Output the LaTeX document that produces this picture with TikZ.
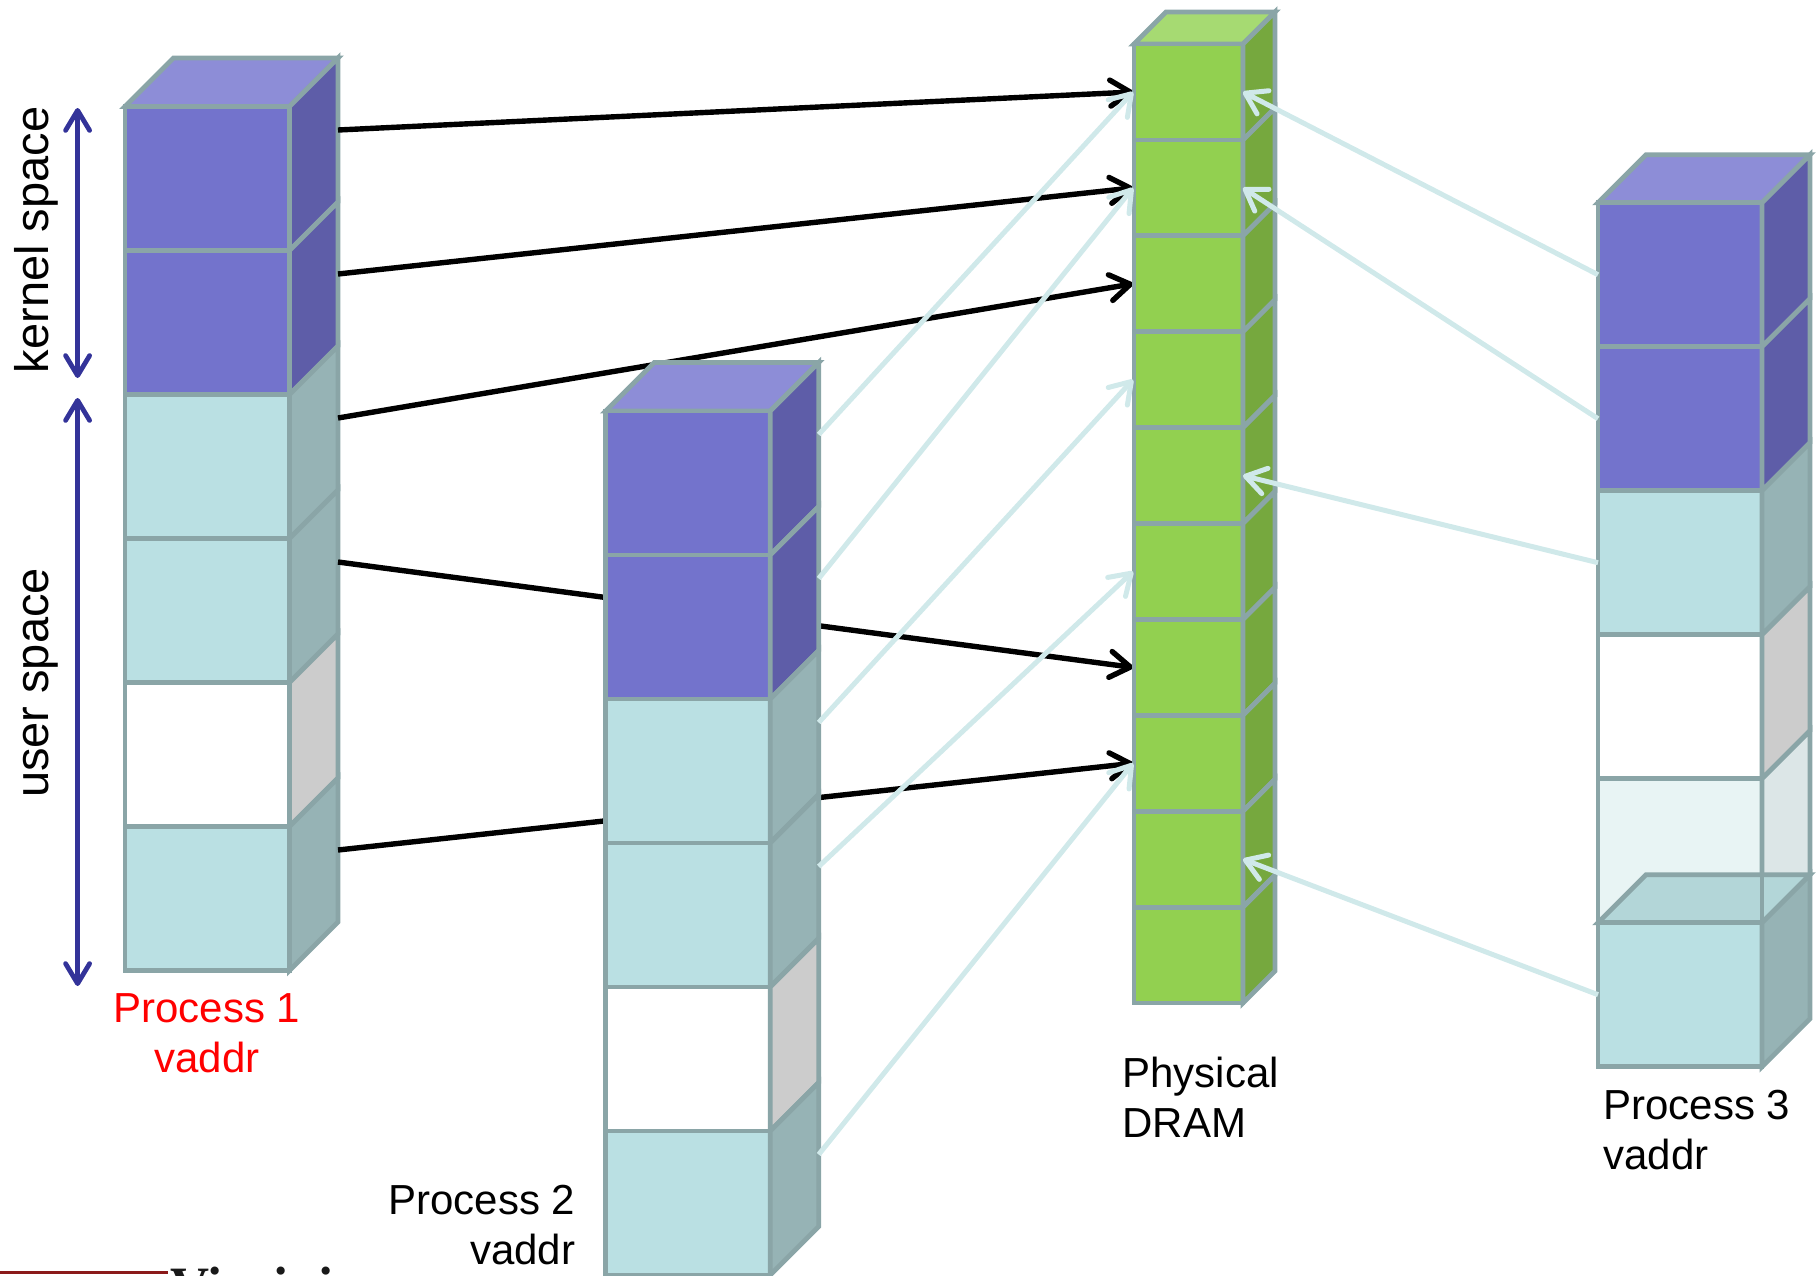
\documentclass[tikz,border=0pt]{standalone}
\usepackage{fontspec}
\setmainfont{Liberation Sans}
\newfontfamily\uvaserif{Liberation Serif}
\usetikzlibrary{arrows.meta}

\definecolor{edge}{HTML}{8AA5A7}
\definecolor{purF}{HTML}{7373CC}
\definecolor{purS}{HTML}{5E5DA8}
\definecolor{purT}{HTML}{8D8DD7}
\definecolor{cyaF}{HTML}{BAE0E3}
\definecolor{cyaS}{HTML}{96B3B5}
\definecolor{cyaT}{HTML}{B3D6D8}
\definecolor{whF}{HTML}{FFFFFF}
\definecolor{whS}{HTML}{CCCCCC}
\definecolor{trF}{HTML}{E8F4F4}
\definecolor{trS}{HTML}{DCE6E7}
\definecolor{grF}{HTML}{92D050}
\definecolor{grS}{HTML}{76A83E}
\definecolor{grT}{HTML}{A6DA72}
\definecolor{lightarrow}{HTML}{D0E9EA}
\definecolor{spacearrow}{HTML}{333399}
\definecolor{uvared}{HTML}{8B1A1A}

\newcommand{\drawcell}[7]{%
  \filldraw[cellstyle, fill=#6] (#1,#2) rectangle ++(#3,#4);
  \filldraw[cellstyle, fill=#7] (#1+#3,#2) -- ++(#5,-#5) -- ++(0,#4) -- ++(-#5,#5) -- cycle;
}
\newcommand{\topface}[5]{%
  \filldraw[cellstyle, fill=#5] (#1,#2) -- ++(#4,-#4) -- ++(#3,0) -- ++(-#4,#4) -- cycle;
}

\begin{document}
\begin{tikzpicture}[x=0.5pt,y=-0.5pt,
  cellstyle/.style={draw=edge, line width=2.4pt},
  blackarr/.style={draw=black, line width=2.7pt, -{Straight Barb[length=10pt,width=13pt,round]}},
  lightarr/.style={draw=lightarrow, line width=2.5pt, -{Straight Barb[length=10pt,width=13pt,round]}},
  spacearr/.style={draw=spacearrow, line width=2.4pt, {Straight Barb[length=10pt,width=12pt,round]}-{Straight Barb[length=10pt,width=12pt,round]}},
  lbl/.style={inner sep=0pt, font=\fontsize{21pt}{25pt}\selectfont},
  sidelbl/.style={inner sep=0pt, rotate=90, anchor=base, font=\fontsize{23.5pt}{28pt}\selectfont},
]
\useasboundingbox (0,0) rectangle (1816,1275);

% ---------- Process 1 ----------
\topface{125}{106.5}{164.5}{48.5}{purT}
\foreach \f/\s [count=\k from 0] in {purF/purS,purF/purS,cyaF/cyaS,cyaF/cyaS,whF/whS,cyaF/cyaS}
  {\drawcell{125}{106.5+144*\k}{164.5}{144}{48.5}{\f}{\s}}
\foreach \k in {1,...,6}
  {\coordinate (p1r\k) at (338,130+144*\k-144);}

% ---------- DRAM anchors ----------
\foreach \k in {1,...,10}{
  \coordinate (dL\k) at (1133,92+95.9*\k-95.9);
  \coordinate (dR\k) at (1243,92+95.9*\k-95.9);
}

% black arrows (behind Process 2)
\draw[blackarr] (p1r1) -- (dL1);
\draw[blackarr] (p1r2) -- (dL2);
\draw[blackarr] (p1r3) -- (dL3);
\draw[blackarr] (p1r4) -- (dL7);
\draw[blackarr] (p1r6) -- (dL8);

% ---------- Process 2 ----------
\topface{605.7}{411}{164.5}{48.5}{purT}
\foreach \f/\s [count=\k from 0] in {purF/purS,purF/purS,cyaF/cyaS,cyaF/cyaS,whF/whS,cyaF/cyaS}
  {\drawcell{605.7}{411+144*\k}{164.5}{144}{48.5}{\f}{\s}}
\foreach \k in {1,...,6}
  {\coordinate (p2r\k) at (818.7,434.5+144*\k-144);}

% ---------- Physical DRAM ----------
\topface{1134}{44}{109}{32}{grT}
\foreach \k in {0,...,9}
  {\drawcell{1134}{44+95.9*\k}{109}{95.9}{32}{grF}{grS}}

% light arrows from Process 2
\draw[lightarr] (p2r1) -- (dL1);
\draw[lightarr] (p2r2) -- (dL2);
\draw[lightarr] (p2r3) -- (dL4);
\draw[lightarr] (p2r4) -- (dL6);
\draw[lightarr] (p2r6) -- (dL8);

% ---------- Process 3 ----------
\topface{1598}{202.7}{164}{48}{purT}
\foreach \f/\s [count=\k from 0] in {purF/purS,purF/purS,cyaF/cyaS,whF/whS,trF/trS}
  {\drawcell{1598}{202.7+144*\k}{164}{144}{48}{\f}{\s}}
\topface{1598}{922.7}{164}{48}{cyaT}
\draw[cellstyle] (1762,778.7) -- (1762,922.7);
\drawcell{1598}{922.7}{164}{144}{48}{cyaF}{cyaS}
\foreach \k in {1,...,6}
  {\coordinate (p3l\k) at (1598,274.7+144*\k-144);}

% light arrows from Process 3
\draw[lightarr] (p3l1) -- (dR1);
\draw[lightarr] (p3l2) -- (dR2);
\draw[lightarr] (p3l3) -- (dR5);
\draw[lightarr] (p3l6) -- (dR9);

% ---------- kernel / user space ----------
\coordinate (ksT) at (77.6,108);
\coordinate (ksB) at (77.6,378);
\coordinate (usT) at (77.6,398);
\coordinate (usB) at (77.6,986);
\draw[spacearr] (ksT) -- (ksB);
\draw[spacearr] (usT) -- (usB);
\node[sidelbl] (klab) at (48,240) {kernel space};
\node[sidelbl] (ulab) at (48,683) {user space};

% ---------- labels ----------
\node[lbl, text=red, align=center] (p1lab) at (207,1033) {Process 1\\vaddr};
\node[lbl, align=right, anchor=east] (p2lab) at (575.6,1225) {Process 2\\vaddr};
\node[lbl, align=left, anchor=west] (dlab) at (1122,1097) {Physical\\DRAM};
\node[lbl, align=left, anchor=west] (p3lab) at (1603,1130) {Process 3\\vaddr};

% ---------- logo fragment at the bottom edge ----------
\coordinate (redL) at (0,1272);
\coordinate (redR) at (168,1272);
\draw[uvared, line width=1.5pt] (redL) -- (redR);
\node[anchor=base west, inner sep=0pt, text=black!90,
      font=\uvaserif\bfseries\fontsize{27pt}{30pt}\selectfont] (uva) at (170,1304) {Virginia};
\end{tikzpicture}
\end{document}
